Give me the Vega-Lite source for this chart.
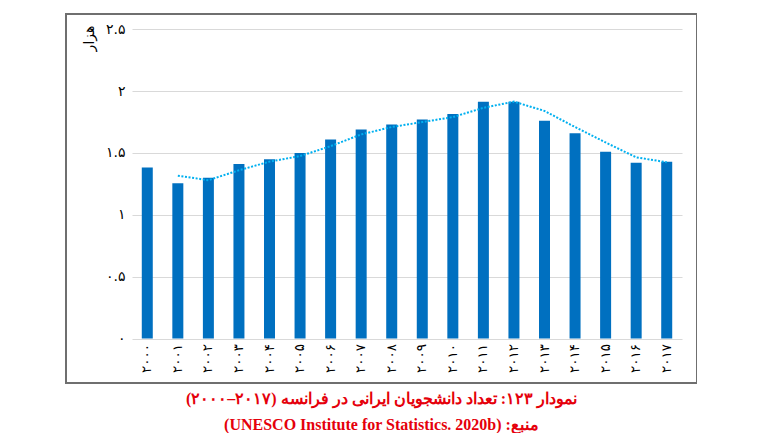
{
  "$schema": "https://vega.github.io/schema/vega-lite/v6.json",
  "width": 631,
  "height": 369,
  "padding": {"left": 66, "top": 14, "right": 0, "bottom": 0},
  "background": "white",
  "config": {
    "view": {"stroke": "#6f6f6f", "strokeWidth": 2},
    "title": {"orient": "bottom", "anchor": "middle", "offset": 8, "fontSize": 16, "font": "Liberation Serif", "fontWeight": "bold", "color": "#e5000b", "lineHeight": 26}
  },
  "title": {
    "text": ["\u202bنمودار ۱۲۳: تعداد دانشجویان ایرانی در فرانسه (۲۰۱۷–۲۰۰۰)\u202c", "\u202bمنبع: (UNESCO Institute for Statistics. 2020b)\u202c"]
  },
  "data": {
    "values": [
      {"year": "۲۰۰۰", "value": 1.383, "trend": null},
      {"year": "۲۰۰۱", "value": 1.255, "trend": 1.316},
      {"year": "۲۰۰۲", "value": 1.30, "trend": 1.28},
      {"year": "۲۰۰۳", "value": 1.41, "trend": 1.36},
      {"year": "۲۰۰۴", "value": 1.45, "trend": 1.43},
      {"year": "۲۰۰۵", "value": 1.50, "trend": 1.475},
      {"year": "۲۰۰۶", "value": 1.61, "trend": 1.555},
      {"year": "۲۰۰۷", "value": 1.69, "trend": 1.65},
      {"year": "۲۰۰۸", "value": 1.73, "trend": 1.71},
      {"year": "۲۰۰۹", "value": 1.77, "trend": 1.75},
      {"year": "۲۰۱۰", "value": 1.815, "trend": 1.79},
      {"year": "۲۰۱۱", "value": 1.915, "trend": 1.865},
      {"year": "۲۰۱۲", "value": 1.915, "trend": 1.915},
      {"year": "۲۰۱۳", "value": 1.76, "trend": 1.84},
      {"year": "۲۰۱۴", "value": 1.66, "trend": 1.71},
      {"year": "۲۰۱۵", "value": 1.51, "trend": 1.585},
      {"year": "۲۰۱۶", "value": 1.42, "trend": 1.465},
      {"year": "۲۰۱۷", "value": 1.43, "trend": 1.425}
    ]
  },
  "encoding": {
    "x": {
      "field": "year",
      "type": "nominal",
      "sort": null,
      "scale": {"type": "band", "range": [66, 616], "paddingInner": 0, "paddingOuter": 0},
      "axis": {
        "title": null,
        "labelAngle": -90,
        "offset": -44.5,
        "domain": false,
        "ticks": false,
        "tickSize": 0,
        "labelPadding": 5,
        "labelFont": "DejaVu Sans",
        "labelFontSize": 13.5,
        "labelColor": "#000000",
        "grid": false
      }
    }
  },
  "layer": [
    {
      "mark": {"type": "bar", "color": "#0070c0", "width": {"band": 0.36}},
      "encoding": {
        "y": {
          "field": "value",
          "type": "quantitative",
          "scale": {"domain": [0, 2.5], "range": [324.5, 15.3], "nice": false},
          "axis": {
            "values": [0, 0.5, 1, 1.5, 2, 2.5],
            "format": "~g",
            "labelExpr": "replace(replace(replace(replace(datum.label, regexp('0','g'), '۰'), regexp('1','g'), '۱'), regexp('2','g'), '۲'), regexp('5','g'), '۵')",
            "grid": true,
            "gridColor": "#d9d9d9",
            "gridWidth": 1,
            "domain": false,
            "ticks": false,
            "tickSize": 0,
            "offset": -61,
            "labelPadding": 2,
            "labelFont": "DejaVu Sans",
            "labelFontSize": 14,
            "labelColor": "#000000",
            "title": "هزار",
            "titleFont": "DejaVu Sans",
            "titleFontSize": 14,
            "titleFontWeight": "normal",
            "titleColor": "#000000",
            "titleAngle": -90,
            "titleX": -38,
            "titleY": 24,
            "titleAlign": "center",
            "titleBaseline": "middle"
          }
        }
      }
    },
    {
      "mark": {"type": "line", "color": "#00b0f0", "strokeWidth": 2, "strokeDash": [2, 1.6]},
      "encoding": {
        "y": {"field": "trend", "type": "quantitative"}
      }
    }
  ]
}
